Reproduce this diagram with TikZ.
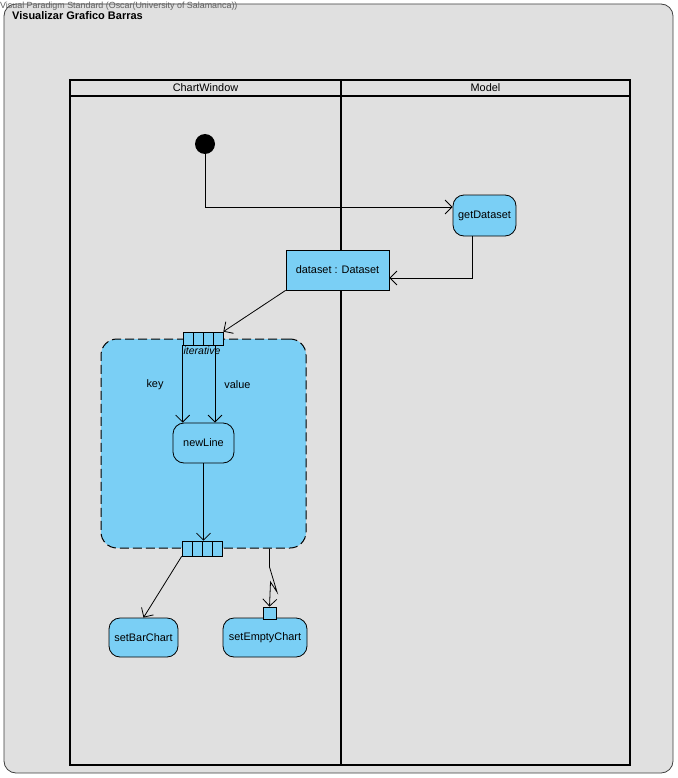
\documentclass[tikz,border=0pt]{standalone}
\usepackage{fontspec}
\setmainfont{Liberation Sans}
\usetikzlibrary{arrows.meta}
\definecolor{bg}{RGB}{224,224,224}
\definecolor{vpblue}{RGB}{122,207,245}
\definecolor{vpgray}{RGB}{95,95,95}
\begin{document}
\begin{tikzpicture}[x=1pt,y=-1pt, font=\fontsize{10.9}{13}\selectfont,
 action/.style={draw, fill=vpblue, rounded corners=11pt, line width=0.8pt, inner sep=0, align=center},
 obj/.style={draw, fill=vpblue, line width=0.8pt, inner sep=0},
 pin/.style={draw, fill=vpblue, line width=0.7pt, minimum width=10pt, minimum height=13pt, inner sep=0},
 flow/.style={line width=0.8pt, -{Straight Barb[length=7pt,width=14pt]}},
 lane/.style={line width=2pt},
 lbl/.style={inner sep=0}]
\useasboundingbox (0,0) rectangle (677,778);
\fill[white] (0,0) rectangle (677,778);
\draw[fill=bg, draw=black!75, line width=0.8pt, rounded corners=12pt] (4,4) rectangle (673,773);
\node[lbl, anchor=north west, text=vpgray, font=\fontsize{8.9}{10}\selectfont] (vp) at (0,1.5) {Visual Paradigm Standard (Oscar(University of Salamanca))};
\node[lbl, anchor=west, font=\bfseries\fontsize{11}{13}\selectfont] (title) at (12,16) {Visualizar Grafico Barras};
% swimlanes
\draw[lane] (70,80) rectangle (630,765);
\draw[lane] (70,96) -- (630,96);
\draw[lane] (341,80) -- (341,765);
\node[lbl] (laneA) at (205.5,88) {ChartWindow};
\node[lbl] (laneB) at (485.5,88) {Model};
% nodes
\node[circle, fill=black, minimum size=20pt, inner sep=0] (init) at (205,144) {};
\node[action, minimum width=63pt, minimum height=41pt] (getDataset) at (484.5,215.5) {getDataset};
\node[obj, minimum width=103pt, minimum height=40pt] (dataset) at (337.5,270) {dataset : Dataset};
% expansion region
\node[draw, line width=1pt, dash pattern=on 9pt off 4pt, fill=vpblue, rounded corners=16pt, minimum width=205pt, minimum height=209pt, inner sep=0] (region) at (203.5,443.5) {};
\node[pin] (pA1) at (188,338.5) {};
\node[pin] (pA2) at (198,338.5) {};
\node[pin] (pA3) at (208,338.5) {};
\node[pin] (pA4) at (218,338.5) {};
\node[lbl, font=\itshape\fontsize{10.5}{12}\selectfont] (iter) at (202,350.5) {iterative};
\node[lbl] (key) at (155,385) {key};
\node[lbl] (value) at (237.5,385) {value};
\node[action, minimum width=61pt, minimum height=40pt] (newLine) at (203.5,443) {newLine};
\node[pin, minimum height=15pt] (pB1) at (187,548.5) {};
\node[pin, minimum height=15pt] (pB2) at (197,548.5) {};
\node[pin, minimum height=15pt] (pB3) at (207,548.5) {};
\node[pin, minimum height=15pt] (pB4) at (217,548.5) {};
\node[action, minimum width=69pt, minimum height=39pt] (setBarChart) at (143.5,637.5) {setBarChart};
\node[action, minimum width=84pt, minimum height=39pt] (setEmptyChart) at (265,637.5) {setEmptyChart};
\node[pin, minimum width=13pt, minimum height=12pt] (pC) at (269.5,613) {};
% connectors
\draw[flow] (init.south) |- ([yshift=8.5pt]getDataset.west);
\draw[flow] ([xshift=-12.5pt]getDataset.south) |- ([yshift=-8pt]dataset.east);
\draw[flow] (dataset.south west) -- (pA4.north east);
\draw[flow] (pA1.south west) -- (pA1.south west |- newLine.north);
\draw[flow] ([xshift=-3pt]pA4.south) -- ([xshift=-3pt]pA4.south |- newLine.north);
\draw[flow] (newLine.south) -- (newLine.south |- pB3.north);
\draw[flow] (pB1.south west) -- (setBarChart.north);
\coordinate (z1) at (269.5,567);
\coordinate (z2) at (277,592);
\coordinate (z3) at (270.5,582);
\draw[flow] (pC.north |- region.south) -- (z1) -- (z2) -- (z3) -- (pC.north);
\end{tikzpicture}
\end{document}
